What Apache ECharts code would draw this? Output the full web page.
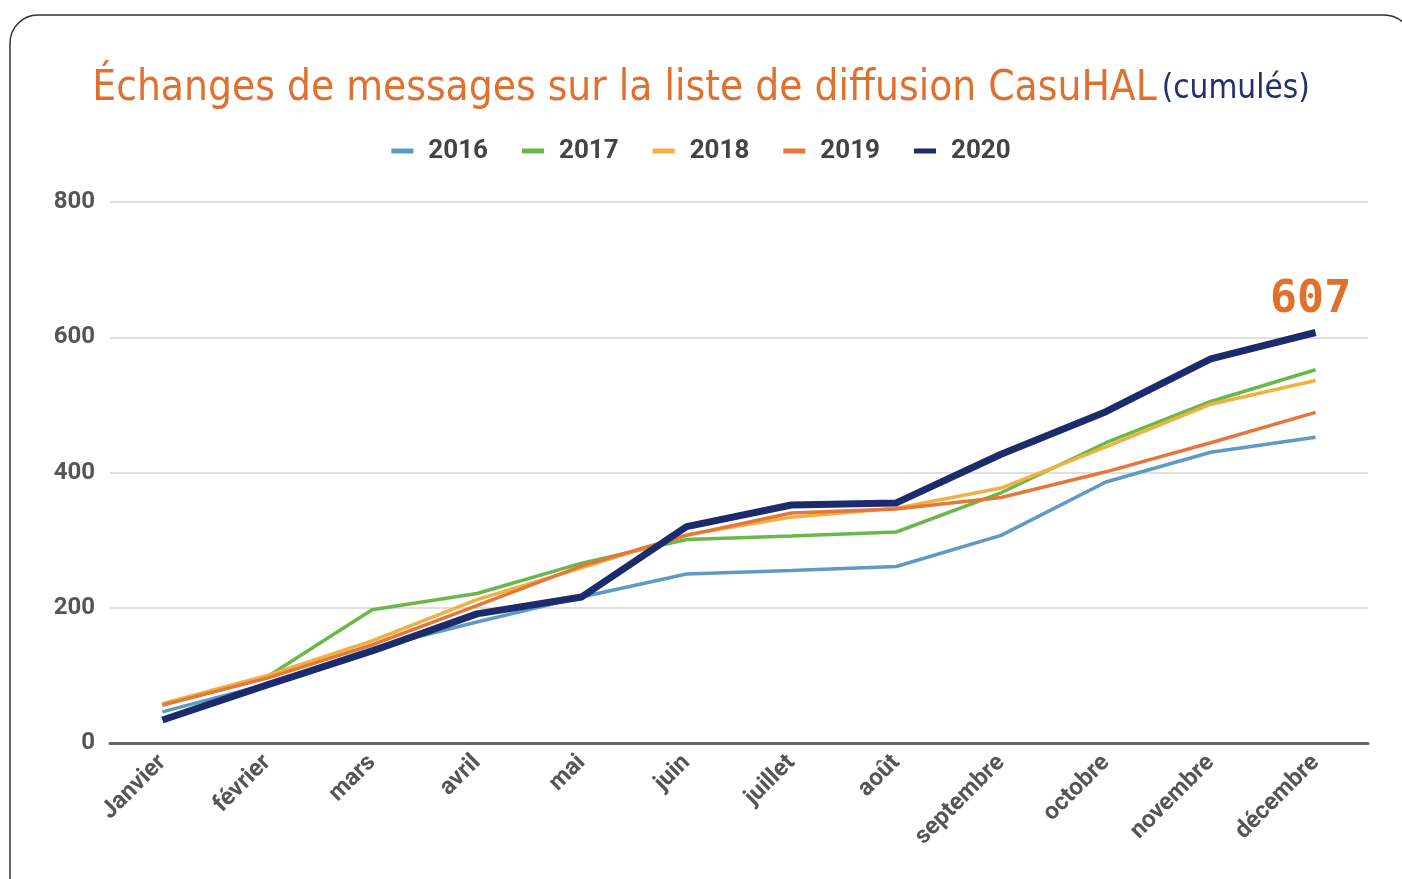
<!DOCTYPE html>
<html>
<head>
<meta charset="utf-8">
<script src="https://cdn.jsdelivr.net/npm/echarts@6/dist/echarts.min.js"></script>
<style>
  html, body { margin: 0; padding: 0; background: #fff; }
  #container { width: 1402px; height: 879px; }
</style>
</head>
<body>
<div id="container"></div>
<script>
var months = ['Janvier', 'février', 'mars', 'avril', 'mai', 'juin', 'juillet', 'août', 'septembre', 'octobre', 'novembre', 'décembre'];
var years = ['2016', '2017', '2018', '2019', '2020'];

var data2016 = [46, 87, 140, 179, 216, 250, 255, 261, 307, 386, 430, 452];
var data2017 = [56, 98, 197, 221, 266, 301, 306, 312, 370, 444, 505, 552];
var data2018 = [58, 100, 151, 212, 259, 308, 334, 347, 377, 438, 501, 536];
var data2019 = [56, 96, 145, 203, 262, 307, 340, 346, 363, 401, 444, 489];
var data2020 = [34, 86, 136, 191, 216, 320, 352, 355, 427, 490, 568, 607];

var yTicks = [0, 200, 400, 600, 800];

var colors = ['#5E9AC3', '#6BB84A', '#EFB13F', '#E5773A', '#1C2B6C'];

var dom = document.getElementById('container');
var myChart = echarts.init(dom);

function makeSeries(name, values, color, width, labelLast) {
  return {
    name: name,
    type: 'line',
    data: values,
    symbol: 'circle',
    symbolSize: 0.1,
    showSymbol: labelLast,
    itemStyle: { color: color },
    color: color,
    lineStyle: { width: width, color: color },
    label: {
      show: labelLast,
      position: 'top',
      distance: 10,
      offset: [-5, 0],
      color: '#E0702E',
      fontFamily: 'DejaVu Sans Mono',
      fontWeight: 'bold',
      fontSize: 45,
      formatter: function (p) {
        return p.dataIndex === values.length - 1 ? String(p.value) : '';
      }
    },
    z: labelLast ? 10 : 2
  };
}

var option = {
  animation: false,
  backgroundColor: '#fff',
  title: {
    text: '{a|Échanges de messages sur la liste de diffusion CasuHAL} {b|(cumulés)}',
    left: 'center',
    top: 63,
    textStyle: {
      rich: {
        a: { fontFamily: 'DejaVu Sans Condensed', fontSize: 42, color: '#E0702E', fontWeight: 'normal' },
        b: { fontFamily: 'DejaVu Sans Condensed', fontSize: 33, color: '#23306E', fontWeight: 'normal' }
      }
    }
  },
  legend: {
    data: years,
    top: 133,
    left: 'center',
    icon: 'rect',
    itemWidth: 22,
    itemHeight: 5,
    itemGap: 34,
    textStyle: {
      fontFamily: 'Roboto', fontWeight: 'bold', fontSize: 26, color: '#444',
      padding: [0, 0, 0, 10]
    }
  },
  graphic: [{
    type: 'rect',
    shape: { x: 10, y: 15, width: 1402, height: 920, r: 28 },
    style: { fill: 'none', stroke: '#333', lineWidth: 1.5 },
    silent: true
  }],
  grid: { left: 110, right: 34, top: 202, bottom: 136 },
  xAxis: {
    type: 'category',
    data: months,
    boundaryGap: true,
    axisLine: { lineStyle: { color: '#666', width: 3 } },
    axisTick: { show: false },
    axisLabel: {
      rotate: 45,
      interval: 0,
      margin: 16,
      fontFamily: 'Roboto',
      fontWeight: 'bold',
      fontSize: 24,
      color: '#555'
    }
  },
  yAxis: {
    type: 'value',
    min: yTicks[0],
    max: yTicks[yTicks.length - 1],
    interval: 200,
    axisLine: { show: false },
    axisTick: { show: false },
    splitLine: { lineStyle: { color: '#d4d4d4', width: 1.5 } },
    axisLabel: {
      margin: 15,
      fontFamily: 'Roboto',
      fontWeight: 'bold',
      fontSize: 24,
      color: '#555'
    }
  },
  series: [
    makeSeries('2016', data2016, colors[0], 3.5, false),
    makeSeries('2017', data2017, colors[1], 3.5, false),
    makeSeries('2018', data2018, colors[2], 3.5, false),
    makeSeries('2019', data2019, colors[3], 3.5, false),
    makeSeries('2020', data2020, colors[4], 7, true)
  ]
};

myChart.setOption(option);
</script>
</body>
</html>
